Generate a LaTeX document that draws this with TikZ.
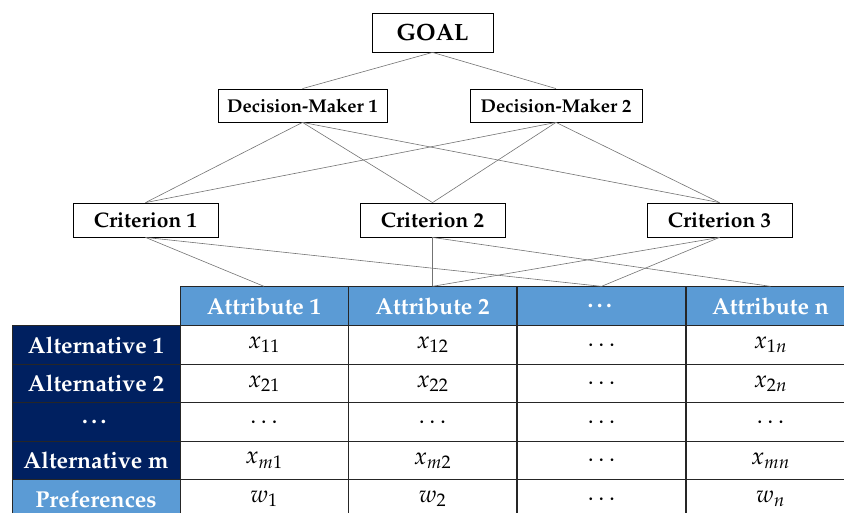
\documentclass[tikz,border=0pt]{standalone}
\usepackage[T1]{fontenc}
\usepackage{mathpazo}
\usepackage{tikz}
\usetikzlibrary{positioning}
\definecolor{hdrblue}{HTML}{5B9BD5}
\definecolor{altnavy}{HTML}{002060}
\tikzset{
	box/.style={draw=black, line width=0.8pt, fill=white, inner sep=0pt, font=\bfseries},
	link/.style={draw=black!55, line width=0.6pt},
	cell/.style={draw=black!85, line width=0.8pt, minimum width=168pt, minimum height=38.5pt, inner sep=0pt, font=\fontsize{24}{26}\selectfont},
	hdr/.style={cell, fill=hdrblue, text=white, font=\fontsize{23}{26}\selectfont\bfseries},
	alt/.style={cell, fill=altnavy, text=white, font=\fontsize{23}{26}\selectfont\bfseries},
	pref/.style={alt, fill=hdrblue}
}

\begin{document}
\begin{tikzpicture}[x=1pt, y=-1pt]
		%%%%% START %%%%%
		\useasboundingbox (0, 0) rectangle (844, 512);
		
		% hierarchy
		\node[box, minimum width=121pt, minimum height=39pt, font=\fontsize{23.5}{26}\selectfont\bfseries] (goal) at (432.5, 32.5) {GOAL};
		
		\node[box, minimum width=169pt, minimum height=33pt, font=\fontsize{18.5}{21}\selectfont\bfseries] (dm1) at (302.5, 105.5) {Decision-Maker 1};
		\node[box, minimum width=172pt, minimum height=33pt, font=\fontsize{18.5}{21}\selectfont\bfseries] (dm2) at (556, 105.5) {Decision-Maker 2};
		
		\node[box, minimum width=145pt, minimum height=34pt, font=\fontsize{21}{24}\selectfont\bfseries] (c1) at (145.5, 220) {Criterion 1};
		\node[box, minimum width=145pt, minimum height=34pt, font=\fontsize{21}{24}\selectfont\bfseries] (c2) at (432.5, 220) {Criterion 2};
		\node[box, minimum width=145pt, minimum height=34pt, font=\fontsize{21}{24}\selectfont\bfseries] (c3) at (719.5, 220) {Criterion 3};
		
		% table header
		\node[hdr] (a1) at (264, 306) {Attribute 1};
		\node[hdr] (a2) at (432.5, 306) {Attribute 2};
		\node[hdr] (ad) at (601.5, 306) {\ldots};
		\node[hdr] (an) at (770.5, 306) {Attribute n};
		
		% links
		\draw[link] (goal.south) -- (dm1.north);
		\draw[link] (goal.south) -- (dm2.north);
		
		\draw[link] (dm1.south) -- (c1.north);
		\draw[link] (dm1.south) -- (c2.north);
		\draw[link] (dm1.south) -- (c3.north);
		\draw[link] (dm2.south) -- (c1.north);
		\draw[link] (dm2.south) -- (c2.north);
		\draw[link] (dm2.south) -- (c3.north);
		
		\draw[link] (c1.south) -- (a1.north);
		\draw[link] (c1.south) -- (ad.north);
		\draw[link] (c2.south) -- (a2.north);
		\draw[link] (c2.south) -- (an.north);
		\draw[link] (c3.south) -- (a2.north);
		\draw[link] (c3.south) -- (ad.north);
		
		% table rows
		\node[alt] (r1) at (96, 345) {Alternative 1};
		\node[cell] (x11) at (264, 345) {$x_{11}$};
		\node[cell] (x12) at (432.5, 345) {$x_{12}$};
		\node[cell] (x1d) at (601.5, 345) {$\ldots$};
		\node[cell] (x1n) at (770.5, 345) {$x_{1n}$};
		
		\node[alt] (r2) at (96, 383.5) {Alternative 2};
		\node[cell] (x21) at (264, 383.5) {$x_{21}$};
		\node[cell] (x22) at (432.5, 383.5) {$x_{22}$};
		\node[cell] (x2d) at (601.5, 383.5) {$\ldots$};
		\node[cell] (x2n) at (770.5, 383.5) {$x_{2n}$};
		
		\node[alt] (rd) at (96, 422) {\ldots};
		\node[cell] (xd1) at (264, 422) {$\ldots$};
		\node[cell] (xd2) at (432.5, 422) {$\ldots$};
		\node[cell] (xdd) at (601.5, 422) {$\ldots$};
		\node[cell] (xdn) at (770.5, 422) {$\ldots$};
		
		\node[alt] (rm) at (96, 460.5) {Alternative m};
		\node[cell] (xm1) at (264, 460.5) {$x_{m1}$};
		\node[cell] (xm2) at (432.5, 460.5) {$x_{m2}$};
		\node[cell] (xmd) at (601.5, 460.5) {$\ldots$};
		\node[cell] (xmn) at (770.5, 460.5) {$x_{mn}$};
		
		\node[pref] (rw) at (96, 499) {Preferences};
		\node[cell] (w1) at (264, 499) {$w_{1}$};
		\node[cell] (w2) at (432.5, 499) {$w_{2}$};
		\node[cell] (wd) at (601.5, 499) {$\ldots$};
		\node[cell] (wn) at (770.5, 499) {$w_{n}$};
		
		%%%%% END %%%%%
	\end{tikzpicture}
\end{document}
